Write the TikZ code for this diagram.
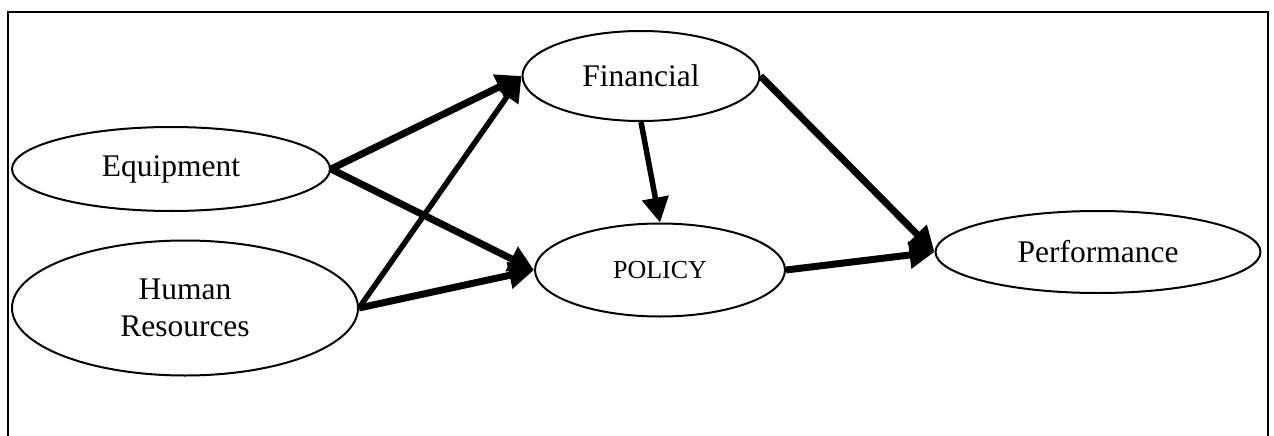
\documentclass[tikz,border=0pt]{standalone}
\usepackage{fontspec}
\setmainfont{Liberation Serif}
\usetikzlibrary{shapes.geometric,arrows.meta}
\begin{document}
\begin{tikzpicture}[x=1pt,y=-1pt,
  blob/.style={ellipse,draw,line width=2pt,inner sep=0pt,align=center,
    font=\fontsize{31.5}{37}\selectfont},
  link/.style={line width=7pt,-{Triangle[length=25pt,width=26pt]}},
  thinlink/.style={link,line width=5.5pt},
]
\useasboundingbox (0,0) rectangle (1274,436);
% open frame around the model
\draw[line width=2pt] (8,446) -- (8,12) -- (1268,12) -- (1268,446);

% constructs
\node[blob,minimum width=318pt,minimum height=84pt] (equip) at (171,169) {Equipment};
\node[blob,minimum width=346pt,minimum height=135pt] (hr) at (185,308) {Human\\Resources};
\node[blob,minimum width=237pt,minimum height=90pt] (fin) at (641,76) {Financial};
\node[blob,minimum width=250pt,minimum height=93pt,font=\fontsize{26}{30}\selectfont] (policy) at (660,270) {POLICY};
\node[blob,minimum width=325pt,minimum height=82pt] (perf) at (1098,252) {Performance};

% paths
\draw[link] (equip.east) -- (fin.west);
\draw[link] (equip.east) -- (policy.west);
\draw[thinlink] (hr.east) -- (fin.west);
\draw[link] (hr.east) -- (policy.west);
\draw[thinlink] (fin.south) -- (policy.north);
\draw[link] (fin.east) -- (perf.west);
\draw[link] (policy.east) -- (perf.west);
\end{tikzpicture}
\end{document}
